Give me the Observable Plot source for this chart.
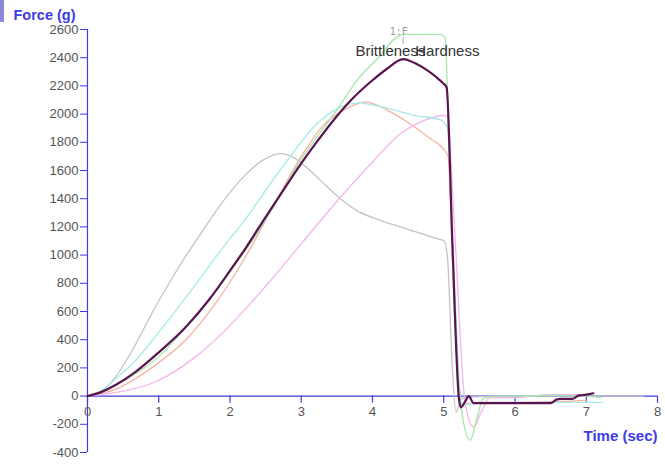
<!DOCTYPE html>
<html>
<head>
<meta charset="utf-8">
<script src="https://cdn.jsdelivr.net/npm/d3@7"></script>
<script src="https://cdn.jsdelivr.net/npm/@observablehq/plot@0.6"></script>
<style>
  html, body { margin: 0; padding: 0; background: #fff; }
  #wrap { position: relative; width: 665px; height: 464px; }
  #bar { position: absolute; left: 0; top: 0; width: 4px; height: 22px; background: #8a8ad8; }
  svg { font-family: "Liberation Sans", Arial, sans-serif; }
</style>
</head>
<body>
<div id="wrap"><div id="bar"></div></div>
<script>
// ---- data ----
const grayT  = [0,0.2,0.4,0.6,0.95,1.3,1.6,1.9,2.2,2.45,2.71,2.9,3.1,3.27,3.55,3.8,4.11,4.39,4.7,4.95,5.0,5.05,5.12,5.17,5.25,5.4,6.2,7.8];
const grayF  = [0,35,140,300,630,930,1160,1380,1560,1670,1720,1690,1610,1530,1400,1310,1247,1200,1150,1110,1105,1000,200,-113,-20,-5,0,0];

const salmonT = [0,0.4,0.9,1.38,1.8,2.22,2.6,3.0,3.3,3.6,3.9,4.2,4.5,4.8,5.0,5.06,5.15,5.25,5.35,5.5,6.0,6.5,7.0];
const salmonF = [0,50,200,400,660,990,1340,1700,1915,2030,2085,2030,1940,1830,1750,1700,600,-60,-50,-45,-45,-40,-30];

const pinkT = [0,0.5,0.95,1.52,1.9,2.22,2.57,3.0,3.55,4.0,4.39,4.7,5.0,5.05,5.15,5.3,5.42,5.52,5.65,6.0,6.5,7.0];
const pinkF = [0,35,100,280,450,620,820,1080,1410,1660,1860,1950,1990,1980,1200,-50,-220,-120,-10,-10,10,10];

const cyanT = [0,0.2,0.39,0.67,0.95,1.38,1.98,2.15,2.7,3.27,3.6,3.8,4.0,4.3,4.6,4.95,5.05,5.15,5.25,5.35,5.5,6.0,6.5,7.0,7.23];
const cyanF = [0,40,120,250,420,700,1105,1211,1600,1955,2060,2080,2065,2030,1990,1960,1900,800,-50,-60,-45,-45,-45,-45,-45];

const greenT = [0,0.4,1.0,1.5,2.0,2.5,3.0,3.5,3.8,4.1,4.3,4.45,4.95,5.02,5.06,5.15,5.25,5.37,5.47,5.55,5.7,6.0,6.5,7.0,7.2];
const greenF = [0,80,280,560,880,1250,1680,2030,2250,2410,2530,2565,2565,2540,2000,600,-100,-312,-150,-20,0,0,5,0,-10];

const purpleT = [0,0.2,0.4,0.67,1.0,1.38,1.7,2.0,2.22,2.5,2.8,3.0,3.2,3.45,3.7,4.0,4.2,4.43,4.6,4.77,4.9,4.98,5.04,5.12,5.21,5.24,5.3,5.35,5.42,5.6,6.0,6.5,6.58,6.64,6.8,6.9,7.0,7.1];
const purpleF = [0,30,80,170,310,490,680,890,1050,1270,1500,1650,1790,1955,2100,2240,2320,2390,2360,2310,2260,2224,2190,1100,0,-80,-40,0,-50,-50,-50,-50,-25,-20,-20,5,10,20];

const seriesNames  = ["gray","salmon","pink","cyan","green","purple"];
const seriesColors = ["#c4c4c4","#f6b2a2","#f4b4ec","#a6eaea","#a4e6aa","#5a1450"];
const seriesWidths = [1.3,1.3,1.3,1.3,1.3,2.2];
const seriesTimes  = [grayT,salmonT,pinkT,cyanT,greenT,purpleT];
const seriesForces = [grayF,salmonF,pinkF,cyanF,greenF,purpleF];

const xTicks = [0,1,2,3,4,5,6,7,8];
const yTicks = d3.range(-400, 2601, 200);
const yTitle = "Force (g)";
const xTitle = "Time (sec)";
const annotations = [
  {t: 3.76, f: 2443, text: "Brittleness"},
  {t: 4.6,  f: 2443, text: "Hardness"}
];
const markerLabel = {t: 4.37, f: 2585, text: "1:F"};

// ---- build ----
const blue = "#3c3ce6";
const lineMarks = seriesNames.map((name, i) => {
  const rows = seriesTimes[i].map((t, j) => ({t, f: seriesForces[i][j]}));
  return Plot.line(rows, {x: "t", y: "f", stroke: seriesColors[i], strokeWidth: seriesWidths[i], curve: "monotone-x"});
});

const chart = Plot.plot({
  width: 665,
  height: 464,
  marginLeft: 87,
  marginRight: 8,
  marginTop: 29,
  marginBottom: 12,
  x: {domain: [0, 8], axis: null},
  y: {domain: [-400, 2600], axis: null},
  style: {fontFamily: "'Liberation Sans', Arial, sans-serif", background: "#fff"},
  marks: [
    // y axis
    Plot.ruleX([0], {y1: -400, y2: 2600, stroke: blue, strokeWidth: 1.2}),
    Plot.axisY({ticks: yTicks, tickSize: 7, tickPadding: 2, stroke: blue, fill: "#555", fontSize: 13, label: null, tickFormat: d => String(d)}),
    // x axis at y = 0
    Plot.ruleY([0], {x1: 0, x2: 8, stroke: blue, strokeWidth: 1.2}),
    Plot.ruleX(xTicks, {x: d => d, y1: 0, y2: -50, stroke: blue, strokeWidth: 1.2}),
    Plot.text(xTicks, {x: d => d, y: 0, dy: 16, text: d => String(d), fill: "#555", fontSize: 13}),
    // series
    ...lineMarks,
    // annotations
    Plot.text([markerLabel], {x: "t", y: "f", text: "text", fontFamily: "'DejaVu Sans Mono', monospace", fontSize: 10, fill: "#9a9a9a"}),
    Plot.ruleX([markerLabel], {x: d => d.t + 0.06, y1: d => d.f - 40, y2: d => d.f - 90, stroke: "#aaa"}),
    Plot.text(annotations, {x: "t", y: "f", text: "text", textAnchor: "start", fontSize: 15, fill: "#333"}),
    // titles
    Plot.text([yTitle], {frameAnchor: "top-left", dx: -74, dy: -20, textAnchor: "start", fontSize: 14.5, fontWeight: "bold", fill: blue}),
    Plot.text([xTitle], {x: 8, y: 0, dy: 40, textAnchor: "end", fontSize: 15, fontWeight: "bold", fill: blue})
  ]
});
document.getElementById("wrap").appendChild(chart);
</script>
</body>
</html>
